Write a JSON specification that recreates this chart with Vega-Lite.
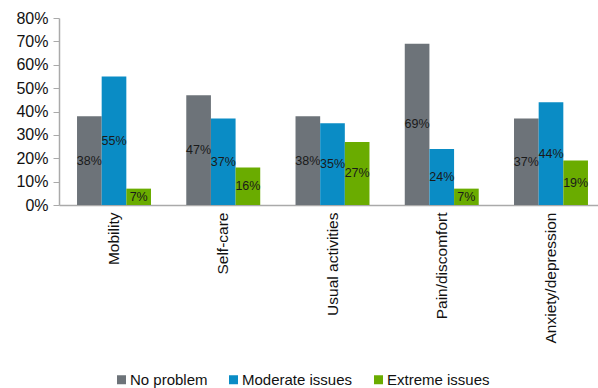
{
  "$schema": "https://vega.github.io/schema/vega-lite/v6.json",
  "width": 539,
  "height": 187,
  "autosize": {"type": "none"},
  "padding": {"left": 59, "top": 18, "right": 0, "bottom": 183},
  "background": "white",
  "config": {"view": {"stroke": null}, "font": "Liberation Sans"},
  "data": {
    "values": [
      {"dimension": "Mobility", "level": "No problem", "value": 0.38},
      {"dimension": "Mobility", "level": "Moderate issues", "value": 0.55},
      {"dimension": "Mobility", "level": "Extreme issues", "value": 0.07},
      {"dimension": "Self-care", "level": "No problem", "value": 0.47},
      {"dimension": "Self-care", "level": "Moderate issues", "value": 0.37},
      {"dimension": "Self-care", "level": "Extreme issues", "value": 0.16},
      {"dimension": "Usual activities", "level": "No problem", "value": 0.38},
      {"dimension": "Usual activities", "level": "Moderate issues", "value": 0.35},
      {"dimension": "Usual activities", "level": "Extreme issues", "value": 0.27},
      {"dimension": "Pain/discomfort", "level": "No problem", "value": 0.69},
      {"dimension": "Pain/discomfort", "level": "Moderate issues", "value": 0.24},
      {"dimension": "Pain/discomfort", "level": "Extreme issues", "value": 0.07},
      {"dimension": "Anxiety/depression", "level": "No problem", "value": 0.37},
      {"dimension": "Anxiety/depression", "level": "Moderate issues", "value": 0.44},
      {"dimension": "Anxiety/depression", "level": "Extreme issues", "value": 0.19}
    ]
  },
  "encoding": {
    "x": {
      "field": "dimension",
      "type": "nominal",
      "sort": ["Mobility", "Self-care", "Usual activities", "Pain/discomfort", "Anxiety/depression"],
      "scale": {"range": [0, 547], "paddingInner": 0.323, "paddingOuter": 0.165},
      "axis": {
        "title": null,
        "ticks": false,
        "labelAngle": -90,
        "labelFontSize": 15.5,
        "labelColor": "#111",
        "labelPadding": 7,
        "domainColor": "#aaaaaa",
        "domainWidth": 1.5
      }
    },
    "xOffset": {
      "field": "level",
      "type": "nominal",
      "sort": ["No problem", "Moderate issues", "Extreme issues"]
    }
  },
  "layer": [
    {
      "mark": {"type": "bar"},
      "encoding": {
        "y": {
          "field": "value",
          "type": "quantitative",
          "scale": {"domain": [0, 0.8]},
          "axis": {
            "title": null,
            "format": ".0%",
            "values": [0, 0.1, 0.2, 0.3, 0.4, 0.5, 0.6, 0.7, 0.8],
            "grid": false,
            "labelFontSize": 16,
            "labelColor": "#111",
            "labelPadding": 5,
            "tickSize": 6,
            "tickColor": "#aaaaaa",
            "domainColor": "#aaaaaa",
            "domainWidth": 1.5
          }
        },
        "color": {
          "field": "level",
          "type": "nominal",
          "sort": ["No problem", "Moderate issues", "Extreme issues"],
          "scale": {
            "domain": ["No problem", "Moderate issues", "Extreme issues"],
            "range": ["#6d7379", "#0a8cc5", "#6aac00"]
          },
          "legend": {
            "title": null,
            "orient": "none",
            "legendX": 55,
            "legendY": 354,
            "direction": "horizontal",
            "symbolType": "square",
            "symbolSize": 81,
            "symbolStrokeWidth": 0,
            "labelFontSize": 15,
            "labelColor": "#111",
            "labelOffset": 1,
            "columnPadding": 18,
            "padding": 0
          }
        }
      }
    },
    {
      "mark": {"type": "text", "fontSize": 12.5, "color": "#1a1a1a"},
      "encoding": {
        "y": {
          "field": "value",
          "type": "quantitative",
          "scale": {"domain": [0, 1.6]},
          "axis": null
        },
        "text": {"field": "value", "type": "quantitative", "format": ".0%"}
      }
    }
  ],
  "resolve": {"scale": {"y": "independent"}}
}
